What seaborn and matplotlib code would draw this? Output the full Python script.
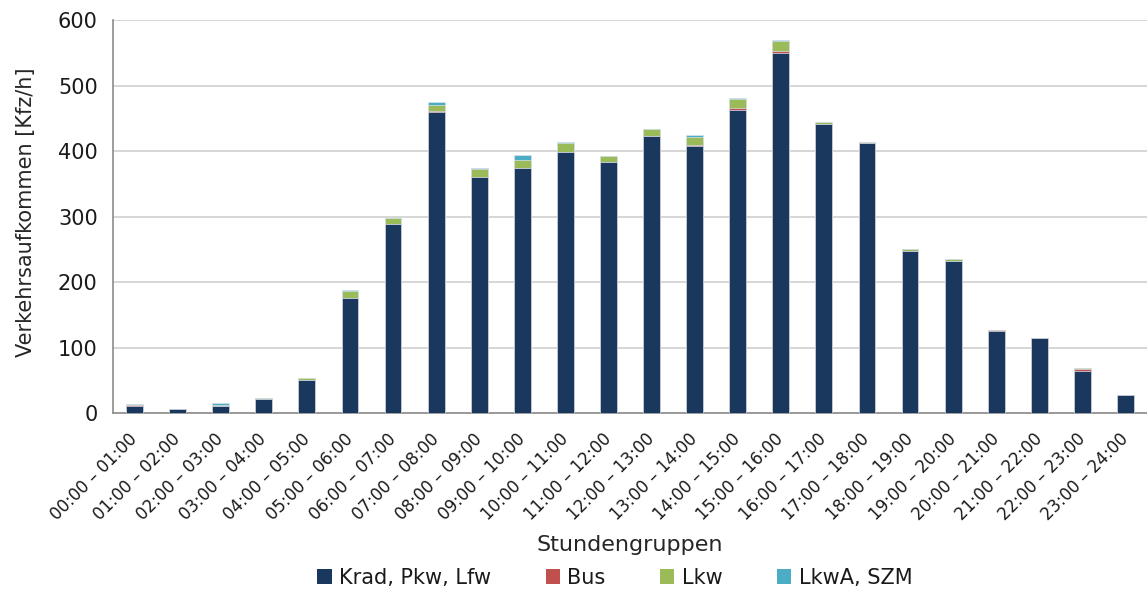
import matplotlib.pyplot as plt
import seaborn as sns
import pandas as pd
import numpy as np
from matplotlib.patches import Patch


# Stundengruppen und Verkehrsaufkommen je Fahrzeuggruppe [Kfz/h]
stunden = [
    "00:00 – 01:00", "01:00 – 02:00", "02:00 – 03:00", "03:00 – 04:00",
    "04:00 – 05:00", "05:00 – 06:00", "06:00 – 07:00", "07:00 – 08:00",
    "08:00 – 09:00", "09:00 – 10:00", "10:00 – 11:00", "11:00 – 12:00",
    "12:00 – 13:00", "13:00 – 14:00", "14:00 – 15:00", "15:00 – 16:00",
    "16:00 – 17:00", "17:00 – 18:00", "18:00 – 19:00", "19:00 – 20:00",
    "20:00 – 21:00", "21:00 – 22:00", "22:00 – 23:00", "23:00 – 24:00",
]
krad_pkw_lfw = [11, 5.5, 11, 21.5, 51, 176, 288.5, 459.5, 360.5, 374, 398.5, 383,
                422.5, 408, 463, 550, 441, 412, 247.5, 232.5, 125, 114.5, 64.5, 27]
bus = [0.5, 0, 0.3, 0, 0, 0, 0.5, 1, 0, 0, 0, 0,
       0, 1, 3, 2.5, 0, 0, 0, 0, 1, 0, 2.5, 0]
lkw = [0.5, 0.5, 0.5, 1.5, 2.5, 10, 9, 10.5, 12, 13, 13, 9.5,
       10.5, 12, 14, 15, 3, 2.5, 3, 2.5, 1, 0.5, 1.5, 0]
lkwa_szm = [1.5, 0, 3, 0, 0, 1.5, 0, 3.5, 1.5, 6.5, 2, 0,
            0, 3.5, 1.5, 1.5, 1, 0, 0, 0.5, 0, 0, 0, 0]

gruppen = ["Krad, Pkw, Lfw", "Bus", "Lkw", "LkwA, SZM"]
farben = ["#1a375e", "#c0504d", "#9bbb59", "#4bacc6"]

# gestapelt -> kumulierte Summen, von oben nach unten zeichnen
df = pd.DataFrame({"stunde": stunden, "krad": krad_pkw_lfw, "bus": bus,
                   "lkw": lkw, "lkwa": lkwa_szm})
df["s1"] = df["krad"]
df["s2"] = df["s1"] + df["bus"]
df["s3"] = df["s2"] + df["lkw"]
df["s4"] = df["s3"] + df["lkwa"]

sns.set_style("white")
plt.rcParams["font.family"] = ["DejaVu Sans"]
plt.rcParams["text.color"] = "#1a1a1a"

fig, ax = plt.subplots(figsize=(11.47, 5.94), dpi=100)
fig.subplots_adjust(left=0.0985, right=1.0, bottom=0.3047, top=0.9663)

for spalte, farbe in zip(["s4", "s3", "s2", "s1"], farben[::-1]):
    sns.barplot(data=df, x="stunde", y=spalte, color=farbe, saturation=1,
                width=0.39, edgecolor="#dde3ea", linewidth=0.5, ax=ax, zorder=3)

ax.set_xlim(-0.5, 23.5)
ax.set_ylim(0, 600)
ax.set_yticks(range(0, 601, 100))
ax.yaxis.grid(True, color="#d0d0d0", linewidth=1.2, zorder=0)
ax.set_axisbelow(True)

for s in ["top", "right"]:
    ax.spines[s].set_visible(False)
for s in ["left", "bottom"]:
    ax.spines[s].set_color("#8c8c8c")
    ax.spines[s].set_linewidth(1.2)

ax.set_xticks(range(24))
ax.set_xticklabels(stunden, rotation=45, ha="right", va="center",
                   rotation_mode="anchor", fontsize=12, color="#1a1a1a")
ax.set_xticks(np.arange(-0.5, 24, 1), minor=True)
ax.tick_params(axis="x", which="major", length=0, pad=17)
ax.tick_params(axis="x", which="minor", length=5, color="#8c8c8c", width=1.2)
ax.tick_params(axis="y", length=5, color="#8c8c8c", width=1.2, labelsize=15,
               pad=6, labelcolor="#1a1a1a")

ax.set_xlabel("Stundengruppen", fontsize=16)
ax.xaxis.set_label_coords(0.5, -0.31)
ax.set_ylabel("Verkehrsaufkommen [Kfz/h]", fontsize=15)
ax.yaxis.set_label_coords(-0.074, 0.51)

handles = [Patch(facecolor=f, edgecolor="none") for f in farben]
fig.legend(handles, gruppen, loc="center", bbox_to_anchor=(0.536, 0.027), ncol=4,
           frameon=False, fontsize=15, columnspacing=2.6, handlelength=0.7,
           handleheight=0.7, handletextpad=0.35)

plt.savefig("out.png", dpi=100)
